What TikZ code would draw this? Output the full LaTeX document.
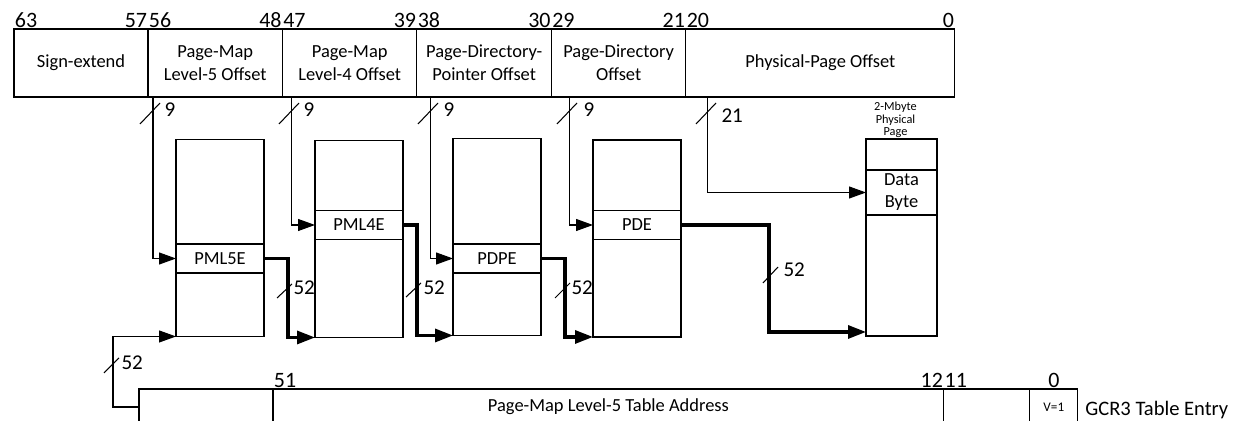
\documentclass[tikz,border=0pt]{standalone}
\usepackage{fontspec}
\setmainfont{Carlito}
\usepackage{tikz}
\usetikzlibrary{arrows.meta}
\usetikzlibrary{positioning}
\tikzset{>=latex}
\tikzstyle{field}=[draw,rectangle,minimum height=1.36cm,minimum width=2.69cm,inner sep=0,outer sep=0,align=center,font=\fontsize{10.5}{13}\selectfont]
\tikzstyle{cell}=[draw,rectangle,minimum height=0.72cm,inner sep=0,outer sep=0,font=\fontsize{10.5}{13}\selectfont]
\tikzstyle{ptable}=[draw,rectangle,minimum width=1.76cm,minimum height=3.94cm,inner sep=0,outer sep=0]
\tikzstyle{entry}=[draw,rectangle,minimum width=1.76cm,minimum height=0.58cm,inner sep=0,outer sep=0,align=center,font=\fontsize{10.5}{12.5}\selectfont]

\begin{document}
\begin{tikzpicture}[x=0.02cm, y=-0.02cm, line width=0.6pt,
	bit/.style = {inner xsep=0.2pt, inner ysep=0.5pt, font=\fontsize{12.5}{13}\selectfont},
	wlabel/.style = {anchor=west, inner sep=0, font=\fontsize{12}{13}\selectfont},
	ptr/.style = {-{Triangle[length=0.34cm,width=0.24cm]}},
	bus/.style = {line width=1.8pt, -{Triangle[length=0.36cm,width=0.26cm]}}]
	\clip (0,0) rectangle (1252,421);
	% guest virtual address
	\node[field, minimum width=2.68cm] (sign) at (81,63) {Sign-extend};
	\node[field, right=0pt of sign] (off5) {Page-Map\\Level-5 Offset};
	\node[field, right=0pt of off5] (off4) {Page-Map\\Level-4 Offset};
	\node[field, right=0pt of off4] (offp) {Page-Directory-\\Pointer Offset};
	\node[field, right=0pt of offp] (offd) {Page-Directory\\Offset};
	\node[field, minimum width=5.38cm, right=0pt of offd] (offb) {Physical-Page Offset};
	\node[bit, anchor=south west] (b63) at (sign.north west) {63};
	\node[bit, anchor=south east] (b57) at (sign.north east) {57};
	\node[bit, anchor=south west] (b56) at (off5.north west) {56};
	\node[bit, anchor=south east] (b48) at (off5.north east) {48};
	\node[bit, anchor=south west] (b47) at (off4.north west) {47};
	\node[bit, anchor=south east] (b39) at (off4.north east) {39};
	\node[bit, anchor=south west] (b38) at (offp.north west) {38};
	\node[bit, anchor=south east] (b30) at (offp.north east) {30};
	\node[bit, anchor=south west] (b29) at (offd.north west) {29};
	\node[bit, anchor=south east] (b21) at (offd.north east) {21};
	\node[bit, anchor=south west] (b20) at (offb.north west) {20};
	\node[bit, anchor=south east] (b0) at (offb.north east) {0};
	% tables
	\node[ptable] (pml5) at (220,238) {};
	\node[ptable] (pml4) at (359,239) {};
	\node[ptable] (pdp) at (497,237) {};
	\node[ptable] (pd) at (637,238.5) {};
	\node[ptable, minimum width=1.42cm] (phys) at (901.5,237.5) {};
	\node[entry] (pml5e) at (220,258.5) {PML5E};
	\node[entry] (pml4e) at (359,225) {PML4E};
	\node[entry] (pdpe) at (497,258.5) {PDPE};
	\node[entry] (pde) at (637,225) {PDE};
	\node[entry, minimum width=1.42cm, minimum height=0.9cm] (data) at (901.5,192.5) {Data\\Byte};
	\node[anchor=south, inner sep=0.5pt, align=center, font=\fontsize{7}{7.1}\selectfont] (pglabel) at ([xshift=-0.12cm]phys.north) {2-Mbyte\\Physical\\Page};
	% offsets into the tables
	\draw[ptr] ([xshift=0.1cm]off5.south west) |- (pml5e);
	\draw[ptr] ([xshift=0.18cm]off4.south west) |- (pml4e);
	\draw[ptr] ([xshift=0.27cm]offp.south west) |- (pdpe);
	\draw[ptr] ([xshift=0.37cm]offd.south west) |- (pde);
	\draw[ptr] ([xshift=0.44cm]offb.south west) |- (data);
	\draw (140,124) -- (160,103); \node[wlabel] (w5) at (164,110) {9};
	\draw (279,124) -- (299,103); \node[wlabel] (w4) at (303,110) {9};
	\draw (418,124) -- (438,103); \node[wlabel] (wp) at (443,110) {9};
	\draw (557,124) -- (577,103); \node[wlabel] (wd) at (583,110) {9};
	\draw (696,124) -- (716,103); \node[wlabel] (wb) at (721,116) {21};
	% table pointers
	\draw[bus] (pml5e.east) -- ++(24,0) |- (pml4.south west);
	\draw[bus] (pml4e.east) -- ++(14,0) |- (pdp.south west);
	\draw[bus] (pdpe.east) -- ++(24,0) |- (pd.south west);
	\draw[bus] (pde.east) -- ++(88,0) |- ([yshift=0.08cm]phys.south west);
	\draw (277,298) -- (292,284); \node[wlabel] (a5) at (293,288) {52};
	\draw (406,297) -- (421,283); \node[wlabel] (a4) at (423,288) {52};
	\draw (555,298) -- (570,283); \node[wlabel] (ap) at (571,288) {52};
	\draw (763,283) -- (778,267); \node[wlabel] (ad) at (783,270) {52};
	% GCR3 table entry
	\node[cell, minimum width=2.68cm] (gres0) at (206,407) {};
	\node[cell, minimum width=13.42cm, right=0pt of gres0] (gaddr) {Page-Map Level-5 Table Address};
	\node[cell, minimum width=1.72cm, right=0pt of gaddr] (gres1) {};
	\node[cell, minimum width=0.96cm, right=0pt of gres1, font=\fontsize{7.5}{8}\selectfont] (gv) {V=1};
	\node[anchor=west, inner sep=0, font=\fontsize{11.7}{13}\selectfont] (gcr) at ([xshift=0.14cm,yshift=-0.06cm]gv.east) {GCR3 Table Entry};
	\node[bit, anchor=south west] (b51) at (gaddr.north west) {51};
	\node[bit, anchor=south east] (b12) at (gaddr.north east) {12};
	\node[bit, anchor=south west] (b11) at (gres1.north west) {11};
	\node[bit, anchor=south] (bv0) at (gv.north) {0};
	\draw[ptr] (gres0.west) -- ++(-26,0) |- (pml5.south west);
	\draw (104,373) -- (119,358); \node[wlabel] (ag) at (121,363) {52};
\end{tikzpicture}
\end{document}
